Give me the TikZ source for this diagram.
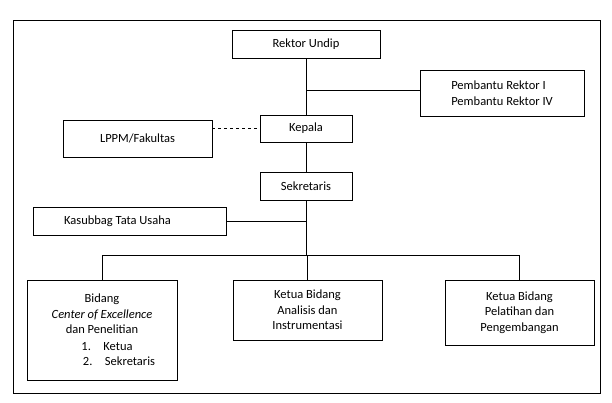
\documentclass[tikz,border=0pt]{standalone}
\usepackage{fontspec}
\setmainfont{Carlito}
\begin{document}
\begin{tikzpicture}[x=1pt,y=-1pt,
  box/.style={draw,semithick,minimum width=0pt,inner sep=0pt,font=\fontsize{12.5}{15.5}\selectfont},
  ln/.style={semithick}]
\useasboundingbox (0,0) rectangle (612,403);
\draw[semithick] (13,20) rectangle (600,393);
\node[box,minimum width=148,minimum height=28] (rek) at (306,44) {Rektor Undip};
\node[box,minimum width=164,minimum height=46,align=left] (pem) at (502,93) {Pembantu Rektor I\\Pembantu Rektor IV};
\node[box,minimum width=149,minimum height=37] (lppm) at (137.5,138.5) {LPPM/Fakultas};
\node[box,minimum width=92,minimum height=27] (kep) at (306,128.5) {Kepala};
\node[box,minimum width=92,minimum height=28] (sek) at (306,186) {Sekretaris};
\node[box,minimum width=193,minimum height=28] (kas) at (129.5,221) {Kasubbag Tata Usaha\hspace*{24pt}};
\node[box,minimum width=150,minimum height=100,align=center] (b1) at (102,330) {Bidang\\\textit{Center of Excellence}\\dan Penelitian\\[1pt]\hspace*{10pt}1.\quad Ketua\\\hspace*{34pt}2.\quad Sekretaris};
\node[box,minimum width=149,minimum height=60,align=center] (b2) at (307.5,310) {Ketua Bidang\\Analisis dan\\Instrumentasi};
\node[box,minimum width=149,minimum height=65,align=center] (b3) at (519.5,312.5) {Ketua Bidang\\Pelatihan dan\\Pengembangan};
\coordinate (j1) at (306,90);
\coordinate (j2) at (306,221);
\coordinate (bus) at (306,255);
\draw[ln] (rek) -- (kep);
\draw[ln] (j1) -- (pem.west|-j1);
\draw[ln,dashed] (lppm.east|-kep) -- (kep.west);
\draw[ln] (kep) -- (sek);
\draw[ln] (sek) -- (bus);
\draw[ln] (kas.east) -- (j2);
\draw[ln] (b1.north|-bus) -- (b3.north|-bus);
\draw[ln] (b1.north|-bus) -- (b1.north);
\draw[ln] (b2.north|-bus) -- (b2.north);
\draw[ln] (b3.north|-bus) -- (b3.north);
\end{tikzpicture}
\end{document}
